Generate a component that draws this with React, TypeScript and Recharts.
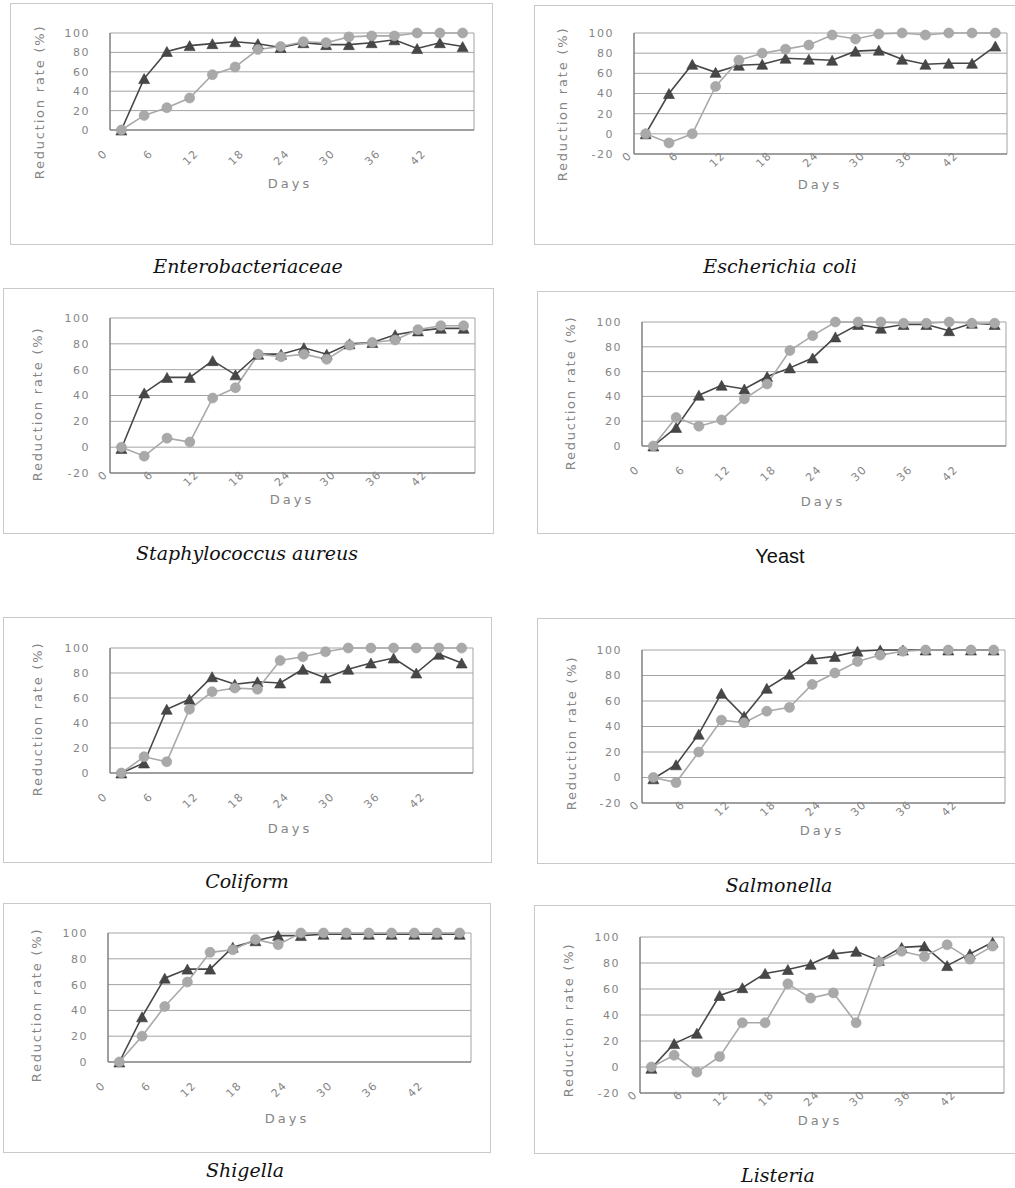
import React from 'react';
import { LineChart, Line, XAxis, YAxis, CartesianGrid, Label } from 'recharts';

// ---------- data ----------
const days = [0, 3, 6, 9, 12, 15, 18, 21, 24, 27, 30, 33, 36, 39, 42, 45];

const enteroTri = [0, 53, 81, 87, 89, 91, 89, 85, 90, 88, 88, 90, 93, 84, 90, 86];
const enteroCir = [0, 15, 23, 33, 57, 65, 83, 86, 91, 90, 96, 97, 97, 100, 100, 100];

const ecoliTri = [0, 40, 69, 61, 68, 69, 75, 74, 73, 82, 83, 74, 69, 70, 70, 87];
const ecoliCir = [0, -9, 0, 47, 73, 80, 84, 88, 98, 94, 99, 100, 98, 100, 100, 100];

const staphTri = [-1, 42, 54, 54, 67, 56, 72, 72, 77, 72, 80, 81, 87, 90, 92, 92];
const staphCir = [0, -7, 7, 4, 38, 46, 72, 70, 72, 68, 79, 81, 83, 91, 94, 94];

const yeastTri = [0, 15, 41, 49, 46, 56, 63, 71, 88, 98, 95, 98, 98, 93, 99, 98];
const yeastCir = [0, 23, 16, 21, 38, 50, 77, 89, 100, 100, 100, 99, 99, 100, 99, 99];

const coliTri = [0, 8, 51, 59, 77, 71, 73, 72, 83, 76, 83, 88, 92, 80, 95, 88];
const coliCir = [0, 13, 9, 51, 65, 68, 67, 90, 93, 97, 100, 100, 100, 100, 100, 100];

const salmTri = [-1, 10, 34, 66, 48, 70, 81, 93, 95, 99, 100, 100, 100, 100, 100, 100];
const salmCir = [0, -4, 20, 45, 43, 52, 55, 73, 82, 91, 96, 99, 100, 100, 100, 100];

const shigTri = [0, 35, 65, 72, 72, 89, 94, 98, 98, 99, 99, 99, 99, 99, 99, 99];
const shigCir = [0, 20, 43, 62, 85, 87, 95, 91, 100, 100, 100, 100, 100, 100, 100, 100];

const listTri = [-1, 18, 26, 55, 61, 72, 75, 79, 87, 89, 82, 92, 93, 78, 87, 96];
const listCir = [0, 9, -4, 8, 34, 34, 64, 53, 57, 34, 81, 89, 85, 94, 83, 93];

const ticksFrom0 = [0, 20, 40, 60, 80, 100];
const ticksFromM20 = [-20, 0, 20, 40, 60, 80, 100];

// ---------- layout (page coordinates) ----------
type Panel = {
  name: string;
  italic: boolean;
  tri: number[];
  cir: number[];
  yMin: number;
  frame: [number, number, number, number];
  plot: [number, number, number, number];
  yt: [number, number];
  dl: [number, number];
  cap: [number, number];
};

const panels: Panel[] = [
  { name: 'Enterobacteriaceae', italic: true, tri: enteroTri, cir: enteroCir, yMin: 0,
    frame: [10, 3, 483, 242], plot: [110, 33, 474, 130], yt: [39, 102], dl: [290, 183], cap: [248, 265.5] },
  { name: 'Escherichia coli', italic: true, tri: ecoliTri, cir: ecoliCir, yMin: -20,
    frame: [534, 5, 496, 240], plot: [634, 33, 1007, 154], yt: [562, 104], dl: [820, 184], cap: [780, 265.5] },
  { name: 'Staphylococcus aureus', italic: true, tri: staphTri, cir: staphCir, yMin: -20,
    frame: [3, 288, 491, 246], plot: [110, 318, 475, 473], yt: [37, 404], dl: [292, 499], cap: [247, 553] },
  { name: 'Yeast', italic: false, tri: yeastTri, cir: yeastCir, yMin: 0,
    frame: [537, 291, 493, 243], plot: [642, 322, 1006, 446], yt: [570, 393], dl: [823, 501], cap: [780, 555.5] },
  { name: 'Coliform', italic: true, tri: coliTri, cir: coliCir, yMin: 0,
    frame: [3, 617, 489, 246], plot: [110, 648, 473, 773], yt: [37, 719], dl: [290, 828], cap: [247, 881] },
  { name: 'Salmonella', italic: true, tri: salmTri, cir: salmCir, yMin: -20,
    frame: [537, 618, 493, 246], plot: [642, 650, 1005, 803], yt: [571, 733], dl: [822, 830], cap: [779, 885] },
  { name: 'Shigella', italic: true, tri: shigTri, cir: shigCir, yMin: 0,
    frame: [3, 903, 488, 250], plot: [108, 933, 471, 1062], yt: [36, 1005], dl: [287, 1118], cap: [245, 1170] },
  { name: 'Listeria', italic: true, tri: listTri, cir: listCir, yMin: -20,
    frame: [534, 905, 496, 249], plot: [640, 937, 1004, 1093], yt: [568, 1020], dl: [820, 1120], cap: [778, 1174.5] },
];

// ---------- styles ----------
const DARK = '#474747';
const LIGHT = '#a9a9a9';
const TEXT = '#858585';
const FONT = 'DejaVu Sans, sans-serif';
const YW = 30;
const XH = 20;

function TriDot(props: any) {
  const { cx, cy } = props;
  if (cx == null || cy == null) return null;
  const w = 11;
  const h = 10;
  return (
    <path
      d={`M${cx},${cy - h / 2} L${cx + w / 2},${cy + h / 2} L${cx - w / 2},${cy + h / 2} Z`}
      fill={DARK}
      stroke="#3a3a3a"
      strokeWidth={0.6}
    />
  );
}

function CirDot(props: any) {
  const { cx, cy } = props;
  if (cx == null || cy == null) return null;
  return <circle cx={cx} cy={cy} r={5} fill={LIGHT} stroke="#a0a0a0" strokeWidth={0.6} />;
}

function renderXTick(props: any, dy: number) {
  const { x, y, payload, index } = props;
  const ax = x - 13;
  const ay = y + dy;
  return (
    <g key={`xt${index}`} transform={`translate(${ax},${ay}) rotate(-45)`}>
      <text
        x={0}
        y={0}
        textAnchor="end"
        fontSize={11}
        fill={TEXT}
        fontFamily={FONT}
        letterSpacing={1.5}
      >
        {payload.value}
      </text>
    </g>
  );
}

function PanelChart({ p }: { p: Panel }) {
  const [fx, fy, fw, fh] = p.frame;
  const [pl, pt, pr, pb] = p.plot;
  const plotW = pr - pl;
  const pad = plotW / 32;
  const rows = days.map((d, i) => ({ day: d, tri: p.tri[i], cir: p.cir[i] }));
  const margin = {
    top: pt - fy,
    left: pl - fx - YW,
    right: fx + fw - pr,
    bottom: fy + fh - pb - XH,
  };
  const yTicks = p.yMin < 0 ? ticksFromM20 : ticksFrom0;
  const ytx = p.yt[0] - fx;
  const yty = p.yt[1] - fy;
  const dlx = p.dl[0] - fx;
  const dly = p.dl[1] - fy;
  const tickDy = p.yMin < 0 ? 2 : 24;
  return (
    <>
      <div
        style={{
          position: 'absolute',
          left: fx,
          top: fy,
          width: fw,
          height: fh,
          border: '1px solid #c9c9c9',
          boxSizing: 'border-box',
        }}
      />
      <div style={{ position: 'absolute', left: fx, top: fy }}>
        <LineChart width={fw} height={fh} data={rows} margin={margin}>
          <CartesianGrid
            stroke="#a3a3a3"
            strokeWidth={1}
            horizontal={true}
            verticalPoints={[pl - fx, pr - fx]}
          />
          <XAxis
            dataKey="day"
            type="category"
            interval={1}
            padding={{ left: pad, right: pad }}
            height={XH}
            tickSize={0}
            tickMargin={0}
            tickLine={false}
            axisLine={{ stroke: '#6e6e6e', strokeWidth: 1 }}
            tick={(tp: any) => renderXTick(tp, tickDy)}
            label={
              <Label
                content={() => (
                  <text
                    x={dlx}
                    y={dly}
                    textAnchor="middle"
                    dominantBaseline="central"
                    fontSize={13}
                    fill={TEXT}
                    fontFamily={FONT}
                    letterSpacing={3}
                  >
                    Days
                  </text>
                )}
              />
            }
          />
          <YAxis
            type="number"
            domain={[p.yMin, 100]}
            ticks={yTicks}
            interval={0}
            width={YW}
            tickSize={0}
            tickMargin={20}
            tickLine={false}
            axisLine={{ stroke: '#6e6e6e', strokeWidth: 1 }}
            tick={{ fontSize: 11, fill: TEXT, fontFamily: FONT, letterSpacing: 1.5 }}
            label={
              <Label
                content={() => (
                  <text
                    x={ytx}
                    y={yty}
                    textAnchor="middle"
                    dominantBaseline="central"
                    transform={`rotate(-90, ${ytx}, ${yty})`}
                    fontSize={13}
                    fill={TEXT}
                    fontFamily={FONT}
                    letterSpacing={1.8}
                  >
                    Reduction rate (%)
                  </text>
                )}
              />
            }
          />
          <Line
            type="linear"
            dataKey="tri"
            stroke={DARK}
            strokeWidth={1.6}
            isAnimationActive={false}
            dot={(d: any) => <TriDot key={`t${d.index}`} {...d} />}
            activeDot={false}
          />
          <Line
            type="linear"
            dataKey="cir"
            stroke={LIGHT}
            strokeWidth={1.6}
            isAnimationActive={false}
            dot={(d: any) => <CirDot key={`c${d.index}`} {...d} />}
            activeDot={false}
          />
        </LineChart>
      </div>
      <div
        style={{
          position: 'absolute',
          left: p.cap[0] - 200,
          top: p.cap[1] - 10,
          width: 400,
          textAlign: 'center',
          fontFamily: p.italic ? 'DejaVu Serif, serif' : 'Liberation Sans, Arial, sans-serif',
          fontStyle: p.italic ? 'italic' : 'normal',
          fontSize: p.italic ? 19 : 20,
          lineHeight: '20px',
          color: '#111',
          whiteSpace: 'nowrap',
        }}
      >
        {p.name}
      </div>
    </>
  );
}

export default function App() {
  return (
    <div
      style={{
        position: 'absolute',
        left: 0,
        top: 0,
        width: 1015,
        height: 1188,
        overflow: 'hidden',
        background: '#fff',
      }}
    >
      {panels.map((p) => (
        <PanelChart key={p.name} p={p} />
      ))}
    </div>
  );
}
